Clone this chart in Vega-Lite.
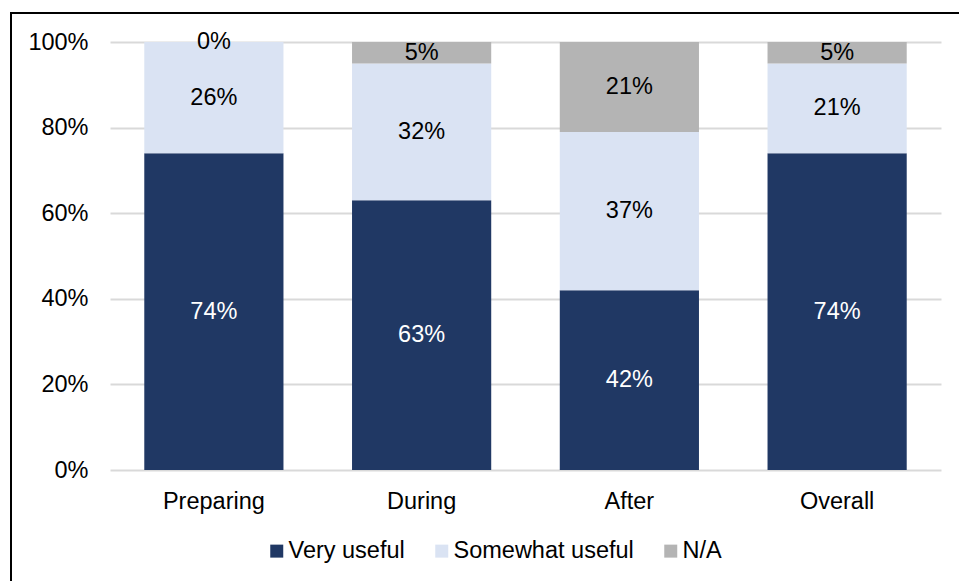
{
  "$schema": "https://vega.github.io/schema/vega-lite/v6.json",
  "autosize": "none",
  "width": 954,
  "height": 574,
  "padding": {"left": 11, "top": 13, "right": 0, "bottom": 0},
  "background": "white",
  "config": {
    "font": "Liberation Sans",
    "view": {"stroke": "#000000", "strokeWidth": 2},
    "axis": {"labelFont": "Liberation Sans", "labelFontSize": 23.5, "labelColor": "#000000"},
    "legend": {"labelFont": "Liberation Sans"}
  },
  "data": {
    "values": [
      {"stage": "Preparing", "category": "Very useful", "share": 0.74},
      {"stage": "Preparing", "category": "Somewhat useful", "share": 0.26},
      {"stage": "Preparing", "category": "N/A", "share": 0.0},
      {"stage": "During", "category": "Very useful", "share": 0.63},
      {"stage": "During", "category": "Somewhat useful", "share": 0.32},
      {"stage": "During", "category": "N/A", "share": 0.05},
      {"stage": "After", "category": "Very useful", "share": 0.42},
      {"stage": "After", "category": "Somewhat useful", "share": 0.37},
      {"stage": "After", "category": "N/A", "share": 0.21},
      {"stage": "Overall", "category": "Very useful", "share": 0.74},
      {"stage": "Overall", "category": "Somewhat useful", "share": 0.21},
      {"stage": "Overall", "category": "N/A", "share": 0.05}
    ]
  },
  "encoding": {
    "x": {
      "field": "stage",
      "type": "nominal",
      "sort": ["Preparing", "During", "After", "Overall"],
      "scale": {"range": [99, 930], "paddingInner": 0.33, "paddingOuter": 0.165},
      "axis": {
        "title": null,
        "orient": "bottom",
        "offset": -117,
        "domain": false,
        "ticks": false,
        "grid": false,
        "labelAngle": 0,
        "labelPadding": 19
      }
    },
    "y": {
      "field": "share",
      "type": "quantitative",
      "stack": "zero",
      "scale": {"domain": [0, 1], "range": [457, 29], "nice": false},
      "axis": {
        "title": null,
        "orient": "left",
        "offset": -99,
        "values": [0, 0.2, 0.4, 0.6, 0.8, 1],
        "format": ".0%",
        "domain": false,
        "ticks": false,
        "labelPadding": 22,
        "grid": true,
        "gridColor": "#D9D9D9",
        "gridWidth": 2
      }
    },
    "order": {"field": "category", "sort": "descending"}
  },
  "layer": [
    {
      "mark": {"type": "bar"},
      "encoding": {
        "color": {
          "field": "category",
          "type": "nominal",
          "scale": {
            "domain": ["Very useful", "Somewhat useful", "N/A"],
            "range": ["#203864", "#DAE3F3", "#B4B4B4"]
          },
          "legend": {
            "title": null,
            "orient": "none",
            "direction": "horizontal",
            "legendX": 254,
            "legendY": 526,
            "padding": 0,
            "symbolType": "square",
            "symbolSize": 169,
            "symbolStrokeWidth": 0,
            "labelFontSize": 23.5,
            "labelColor": "#000000",
            "labelOffset": 0,
            "labelLimit": 400,
            "columnPadding": 25
          }
        }
      }
    },
    {
      "mark": {"type": "text", "fontSize": 23.5, "font": "Liberation Sans", "baseline": "middle", "align": "center"},
      "encoding": {
        "y": {"field": "share", "type": "quantitative", "stack": "zero", "bandPosition": 0.5},
        "detail": {"field": "category"},
        "text": {"field": "share", "type": "quantitative", "format": ".0%"},
        "color": {
          "condition": {"test": "datum.category === 'Very useful'", "value": "#FFFFFF"},
          "value": "#000000"
        }
      }
    }
  ]
}
